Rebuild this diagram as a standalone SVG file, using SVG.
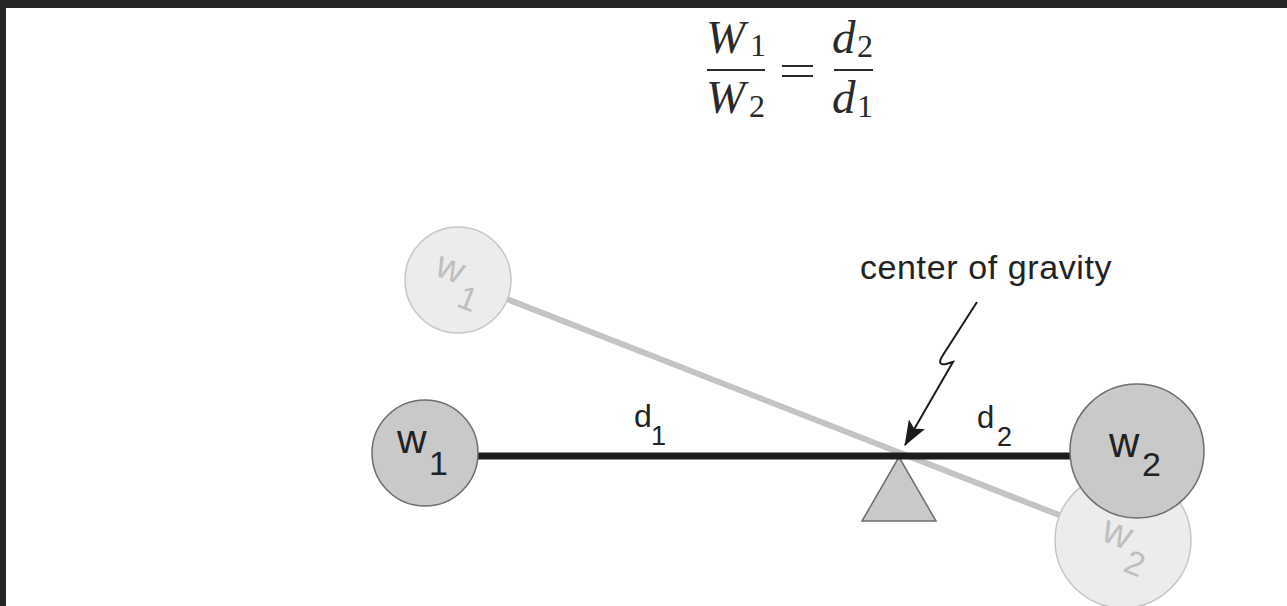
<svg xmlns="http://www.w3.org/2000/svg" width="1287" height="606" viewBox="0 0 1287 606">
<style>
.frame{fill:#262626}
.ghostline{stroke:#c4c4c4;stroke-width:6;fill:none}
.bar{stroke:#1c1c1c;stroke-width:7;fill:none}
.wt{fill:#c9c9c9;stroke:#6e6e6e;stroke-width:1.5}
.gw{fill:#ececec;stroke:#c6c6c6;stroke-width:1.5}
.lbl{font-family:"Liberation Sans",Arial,sans-serif;fill:#222222}
.glbl{font-family:"Liberation Sans",Arial,sans-serif;fill:#bfbfbf}
.math{font-family:"Liberation Serif","Times New Roman",serif;fill:#2a2a2a}
.it{font-style:italic}
.arrow{stroke:#1a1a1a;stroke-width:2;fill:none}
</style>
<defs>
<marker id="ah" viewBox="0 0 24 18" refX="23" refY="9" markerWidth="25" markerHeight="19" markerUnits="userSpaceOnUse" orient="auto">
<path d="M0,0 L24,9 L0,18 L5,9 z" fill="#1a1a1a"/>
</marker>
</defs>
<rect width="1287" height="606" fill="#ffffff"/>
<rect class="frame" x="0" y="0" width="1287" height="8"/>
<rect class="frame" x="0" y="0" width="6" height="606"/>

<g id="formula">
<text class="math" font-size="47"><tspan class="it" x="706" y="53">W</tspan><tspan x="750" y="56" font-size="32">1</tspan></text>
<line x1="707" y1="70" x2="765" y2="70" stroke="#2a2a2a" stroke-width="2"/>
<text class="math" font-size="47"><tspan class="it" x="706" y="113">W</tspan><tspan x="749" y="117" font-size="32">2</tspan></text>
<line x1="782" y1="66" x2="813" y2="66" stroke="#2a2a2a" stroke-width="2"/>
<line x1="782" y1="76" x2="813" y2="76" stroke="#2a2a2a" stroke-width="2"/>
<text class="math" font-size="47"><tspan class="it" x="832" y="53">d</tspan><tspan x="857" y="57" font-size="32">2</tspan></text>
<line x1="834" y1="70" x2="873" y2="70" stroke="#2a2a2a" stroke-width="2"/>
<text class="math" font-size="47"><tspan class="it" x="832" y="113">d</tspan><tspan x="857" y="117" font-size="32">1</tspan></text>
</g>

<g id="connectors">
<line class="ghostline" x1="458" y1="280" x2="1123" y2="540"/>
</g>

<g id="ghost-w1">
<circle class="gw" cx="458" cy="280" r="53"/>
<g transform="rotate(21.5 458 280)">
<text class="glbl"><tspan x="433" y="284" font-size="38">w</tspan><tspan x="465" y="305" font-size="33">1</tspan></text>
</g>
</g>

<g id="ghost-w2">
<circle class="gw" cx="1123" cy="540" r="68"/>
<g transform="rotate(21.5 1123 540)">
<text class="glbl"><tspan x="1101" y="548" font-size="40">w</tspan><tspan x="1133" y="569" font-size="34">2</tspan></text>
</g>
</g>

<g id="pivot">
<polygon points="899,457 862,521 936,521" fill="#c9c9c9" stroke="#6e6e6e" stroke-width="1.5"/>
</g>

<g id="beam">
<line class="bar" x1="476" y1="456" x2="1072" y2="456"/>
</g>

<g id="w1">
<circle class="wt" cx="425" cy="453" r="53"/>
<text class="lbl"><tspan x="397" y="453" font-size="41">w</tspan><tspan x="429" y="475" font-size="34">1</tspan></text>
</g>

<g id="w2">
<circle class="wt" cx="1137" cy="451" r="67"/>
<text class="lbl"><tspan x="1109" y="457" font-size="42">w</tspan><tspan x="1142" y="476" font-size="34">2</tspan></text>
</g>

<g id="d-labels">
<text class="lbl"><tspan x="634" y="427" font-size="32">d</tspan><tspan x="651" y="445" font-size="27">1</tspan></text>
<text class="lbl"><tspan x="977" y="428" font-size="31">d</tspan><tspan x="997" y="446" font-size="27">2</tspan></text>
</g>

<g id="cog-label">
<text class="lbl" x="860" y="279" font-size="34" letter-spacing="0.6">center of gravity</text>
<path class="arrow" d="M977,302 L943,355 Q936,366 946,364 L953,362 L905,445" marker-end="url(#ah)"/>
</g>
</svg>
